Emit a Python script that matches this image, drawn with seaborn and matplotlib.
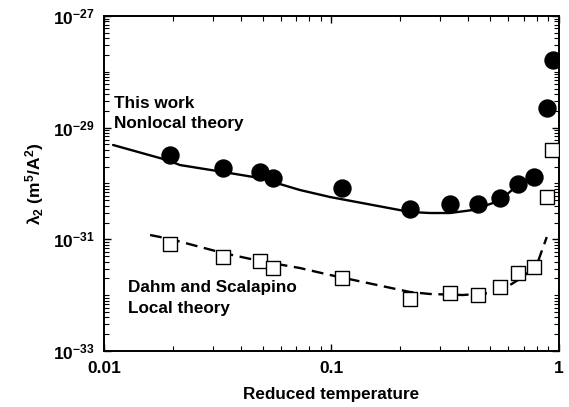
import matplotlib
matplotlib.use("Agg")
import matplotlib.pyplot as plt
import matplotlib.ticker as mticker
import seaborn as sns
import pandas as pd
import numpy as np

# ---- data ----
circ_t = [0.0195, 0.0333, 0.0485, 0.0553, 0.111, 0.221, 0.332, 0.440, 0.551, 0.660, 0.776, 0.885, 0.94]
circ_l = [3.2e-30, 1.9e-30, 1.6e-30, 1.25e-30, 8.3e-31, 3.5e-31, 4.3e-31, 4.3e-31, 5.5e-31, 9.8e-31, 1.3e-30, 2.25e-29, 1.6e-28]

sq_t = [0.0195, 0.0333, 0.0485, 0.0553, 0.111, 0.221, 0.332, 0.440, 0.551, 0.660, 0.776, 0.885, 0.93]
sq_l = [8.3e-32, 4.8e-32, 4.1e-32, 3.1e-32, 2.0e-32, 8.5e-33, 1.1e-32, 1.0e-32, 1.4e-32, 2.5e-32, 3.2e-32, 5.7e-31, 4.0e-30]

nonlocal_t = [0.01095, 0.01891, 0.02158, 0.03335, 0.04849, 0.0727, 0.0985, 0.2214, 0.271, 0.3318, 0.4188, 0.5128, 0.5673, 0.6604, 0.7455]
nonlocal_l = [4.89e-30, 2.63e-30, 2.14e-30, 1.61e-30, 1.25e-30, 7.64e-31, 5.73e-31, 3.09e-31, 2.96e-31, 2.96e-31, 3.35e-31, 4.47e-31, 5.5e-31, 9.39e-31, 1.25e-30]

local_t = [0.01593, 0.01951, 0.03335, 0.04849, 0.0727, 0.0985, 0.2214, 0.271, 0.3784, 0.4972, 0.5906, 0.6948, 0.8003, 0.8857]
local_l = [1.195e-31, 1.013e-31, 5.69e-32, 4.09e-32, 3.06e-32, 2.30e-32, 1.14e-32, 1.05e-32, 1.006e-32, 1.09e-32, 1.40e-32, 2.11e-32, 3.47e-32, 1.10e-31]

sns.set_style("ticks")
plt.rcParams["font.family"] = ["Liberation Sans", "DejaVu Sans"]
plt.rcParams["font.weight"] = "bold"
plt.rcParams["mathtext.fontset"] = "custom"
plt.rcParams["mathtext.rm"] = "Liberation Sans:bold"
plt.rcParams["mathtext.bf"] = "Liberation Sans:bold"
plt.rcParams["mathtext.it"] = "Liberation Sans:bold"
plt.rcParams["mathtext.default"] = "bf"
for k in ["text.color", "axes.labelcolor", "xtick.color", "ytick.color"]:
    plt.rcParams[k] = "black"

fig = plt.figure(figsize=(5.69, 4.07), dpi=100)
ax = fig.add_axes([0.183, 0.1376, 0.799, 0.8231])

df_nl = pd.DataFrame({"t": nonlocal_t, "l": nonlocal_l})
df_lo = pd.DataFrame({"t": local_t, "l": local_l})
df_c = pd.DataFrame({"t": circ_t, "l": circ_l})
df_s = pd.DataFrame({"t": sq_t, "l": sq_l})

sns.lineplot(data=df_nl, x="t", y="l", ax=ax, color="black", lw=1.7, zorder=2)
sns.lineplot(data=df_lo, x="t", y="l", ax=ax, color="black", lw=1.7,
             zorder=2, linestyle=(0, (5, 2.8)))
sns.scatterplot(data=df_s, x="t", y="l", ax=ax, marker="s", s=115,
                facecolor="white", edgecolor="black", linewidth=1.0, zorder=3)
sns.scatterplot(data=df_c, x="t", y="l", ax=ax, marker="o", s=150,
                color="black", edgecolor="black", zorder=4)

ax.set_xscale("log")
ax.set_yscale("log")
ax.set_xlim(0.01, 1)
ax.set_ylim(1e-33, 1e-27)

ax.yaxis.set_major_locator(mticker.FixedLocator([1e-33, 1e-31, 1e-29, 1e-27]))
ax.yaxis.set_minor_locator(mticker.LogLocator(base=10, subs=np.arange(1, 10), numticks=20))
ax.yaxis.set_minor_formatter(mticker.NullFormatter())
ax.yaxis.set_major_formatter(mticker.LogFormatterSciNotation())
ax.xaxis.set_major_formatter(mticker.FuncFormatter(lambda v, p: f"{v:g}"))
ax.xaxis.set_minor_formatter(mticker.NullFormatter())

ax.tick_params(which="both", direction="in", top=True, right=True, color="black")
ax.tick_params(which="major", length=5, width=1.0, labelsize=12.5, pad=7)
ax.tick_params(which="minor", length=3.5, width=0.8)
for sp in ax.spines.values():
    sp.set_linewidth(1.4)
    sp.set_color("black")

ax.set_xlabel("Reduced temperature", fontsize=12.3, fontweight="bold", labelpad=8)
ax.set_ylabel(r"$\lambda_2$ (m$^5$/A$^2$)", fontsize=12.5, fontweight="bold", labelpad=5)

kw = dict(transform=ax.transAxes, fontsize=12.3, fontweight="bold", va="center", ha="left")
ax.text(0.022, 0.74, "This work", **kw)
ax.text(0.022, 0.678, "Nonlocal theory", **kw)
ax.text(0.053, 0.191, "Dahm and Scalapino", **kw)
ax.text(0.053, 0.128, "Local theory", **kw)

if ax.get_legend() is not None:
    ax.get_legend().remove()

fig.savefig("out.png", dpi=100)
